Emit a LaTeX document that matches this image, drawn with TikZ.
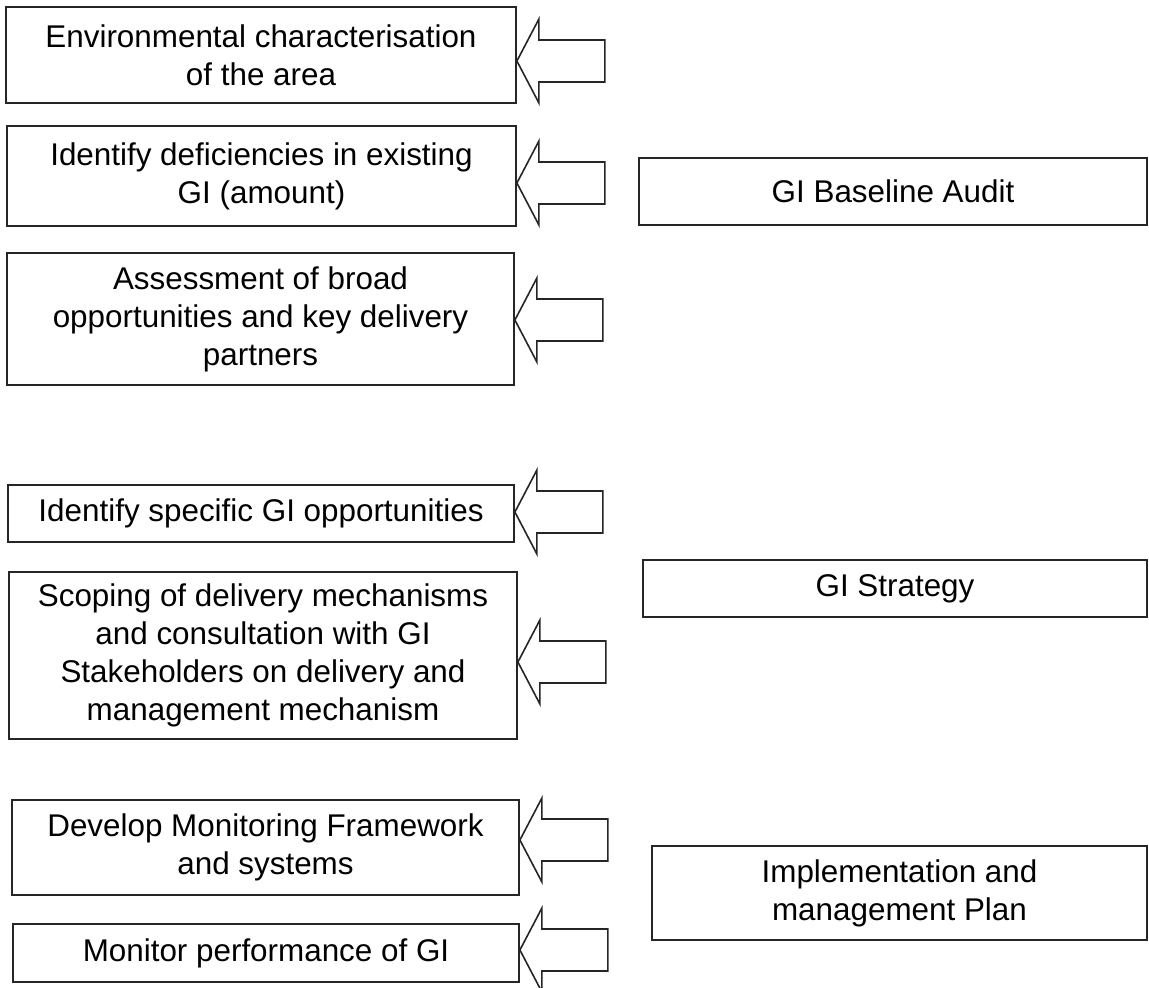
\documentclass[tikz,border=0pt]{standalone}
\usepackage{fontspec}
\setmainfont{Liberation Sans}
\begin{document}
\begin{tikzpicture}[x=0.5pt,y=-0.5pt,
  box/.style={draw=black!85, line width=0.9pt, rectangle, inner sep=0pt, align=center,
    font=\fontsize{15.7}{19}\selectfont},
  barrow/.style={draw=black!85, line width=0.8pt, line join=miter, fill=white}]
\useasboundingbox (0,0) rectangle (1149,987);
\fill[white] (0,0) rectangle (1149,987);
% left boxes
\node[box, minimum width=255pt, minimum height=48pt] (b1) at (261,55)
  {Environmental characterisation\\of the area};
\node[box, minimum width=254.5pt, minimum height=50pt] (b2) at (261.5,176)
  {Identify deficiencies in existing\\GI (amount)};
\node[box, minimum width=253.5pt, minimum height=66pt] (b3) at (260.5,319)
  {Assessment of broad\\opportunities and key delivery\\partners};
\node[box, minimum width=253pt, minimum height=28.5pt] (b4) at (261,513.5)
  {Identify specific GI opportunities};
\node[box, minimum width=254pt, minimum height=83.5pt] (b5) at (263,655.5)
  {Scoping of delivery mechanisms\\and consultation with GI\\Stakeholders on delivery and\\management mechanism};
\node[box, minimum width=253.5pt, minimum height=47.5pt] (b6) at (265.5,847.5)
  {Develop Monitoring Framework\\and systems};
\node[box, minimum width=253pt, minimum height=29pt] (b7) at (266,953)
  {Monitor performance of GI};
% right boxes
\node[box, minimum width=254pt, minimum height=33.5pt] (r1) at (893,191.5) {GI Baseline Audit};
\node[box, minimum width=252pt, minimum height=28.5pt] (r2) at (895,588.5) {GI Strategy};
\node[box, minimum width=247.5pt, minimum height=47pt] (r3) at (899.5,893)
  {Implementation and\\management Plan};
% arrow tips on the boxes
\coordinate (t1) at (b1.east |- 0,61);
\coordinate (t2) at (b2.east |- 0,183);
\coordinate (t3) at (b3.east |- 0,320);
\coordinate (t4) at (b4.east |- 0,512);
\coordinate (t5) at (b5.east |- 0,662);
\coordinate (t6) at (b6.east |- 0,840);
\coordinate (t7) at (b7.east |- 0,950);
\foreach \t in {t1,t2,t3,t4,t5,t6,t7}{
  \draw[barrow] (\t) -- ++(22,-42) -- ++(0,21) -- ++(66,0) -- ++(0,42)
    -- ++(-66,0) -- ++(0,21) -- cycle;
}
\end{tikzpicture}
\end{document}
